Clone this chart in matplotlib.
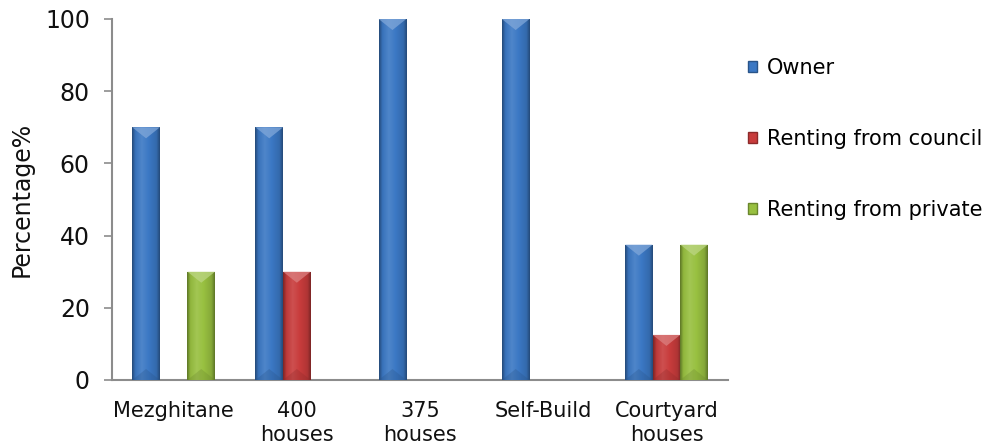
import numpy as np
import matplotlib.pyplot as plt
from matplotlib.colors import to_rgb
from matplotlib.patches import Patch, Polygon

categories = ["Mezghitane", "400\nhouses", "375\nhouses", "Self-Build", "Courtyard\nhouses"]
series = ["Owner", "Renting from council", "Renting from private"]
owner = [70, 70, 100, 100, 37.5]
council = [0, 30, 0, 0, 12.5]
private = [30, 0, 0, 0, 37.5]
colors = ["#3b78c4", "#c83c3c", "#98c040"]


def shade(c, f):
    # f > 1 lightens, f < 1 darkens
    r = np.array(to_rgb(c))
    if f >= 1:
        return r + (1 - r) * (f - 1)
    return r * f


def fancy_bar(ax, rect, color, px_per_y):
    x0, y0 = rect.get_x(), rect.get_y()
    w, h = rect.get_width(), rect.get_height()
    if h <= 0:
        return
    # horizontal gradient for the cylinder/bevel look
    stops = np.array([shade(color, 0.62), shade(color, 0.95), shade(color, 1.1),
                      shade(color, 1.0), shade(color, 0.88), shade(color, 0.62)])
    pos = np.array([0, 0.12, 0.35, 0.6, 0.88, 1.0])
    xs = np.linspace(0, 1, 64)
    grad = np.stack([np.interp(xs, pos, stops[:, k]) for k in range(3)], axis=-1)[None, :, :]
    im = ax.imshow(grad, extent=(x0, x0 + w, y0, y0 + h), aspect="auto",
                   zorder=3, interpolation="bilinear")
    im.set_clip_path(rect)
    # top bevel wedge
    bw_px = w * px_per_x
    d = min(bw_px * 0.4 / px_per_y, h / 2)
    top = y0 + h
    ax.add_patch(Polygon([(x0, top), (x0 + w, top), (x0 + w / 2, top - d)],
                         closed=True, facecolor=shade(color, 1.35), edgecolor="none",
                         alpha=0.75, zorder=4))
    # bottom bevel wedge
    ax.add_patch(Polygon([(x0, y0), (x0 + w, y0), (x0 + w / 2, y0 + d)],
                         closed=True, facecolor=shade(color, 0.7), edgecolor="none",
                         alpha=0.3, zorder=4))


fig = plt.figure(figsize=(9.88, 4.48), dpi=100)
ax = fig.add_axes([0.1134, 0.1518, 0.6235, 0.8058])

x = np.arange(len(categories))
width = 0.224
ax.set_xlim(-0.5, len(categories) - 0.5)
ax.set_ylim(0, 100)

axw_px = 0.6235 * 988
axh_px = 0.8058 * 448
px_per_x = axw_px / len(categories)
px_per_y = axh_px / 100

for i, (vals, col) in enumerate(zip([owner, council, private], colors)):
    bars = ax.bar(x + (i - 1) * width, vals, width, color=col, edgecolor="none", zorder=2)
    for b in bars:
        fancy_bar(ax, b, col, px_per_y)

ax.set_xticks(x)
ax.set_xticklabels(categories, fontsize=15, color="#111111", linespacing=1.25)
ax.tick_params(axis="x", length=0, pad=15)
ax.set_yticks(range(0, 101, 20))
ax.tick_params(axis="y", labelsize=17, length=6, width=1.2, color="#8c8c8c", pad=10,
               labelcolor="#111111")
ax.set_ylabel("Percentage%", fontsize=17, color="#111111", labelpad=8)

for s in ["top", "right"]:
    ax.spines[s].set_visible(False)
for s in ["left", "bottom"]:
    ax.spines[s].set_color("#8c8c8c")
    ax.spines[s].set_linewidth(1.5)

handles = [Patch(facecolor=c, edgecolor=shade(c, 0.7)) for c in colors]
fig.legend(handles, series, loc="center left", bbox_to_anchor=(0.757, 0.69),
           frameon=False, fontsize=15, labelspacing=2.45, handlelength=0.45,
           handleheight=0.45, handletextpad=0.45, borderaxespad=0, borderpad=0)

fig.savefig("out.png", dpi=100)
